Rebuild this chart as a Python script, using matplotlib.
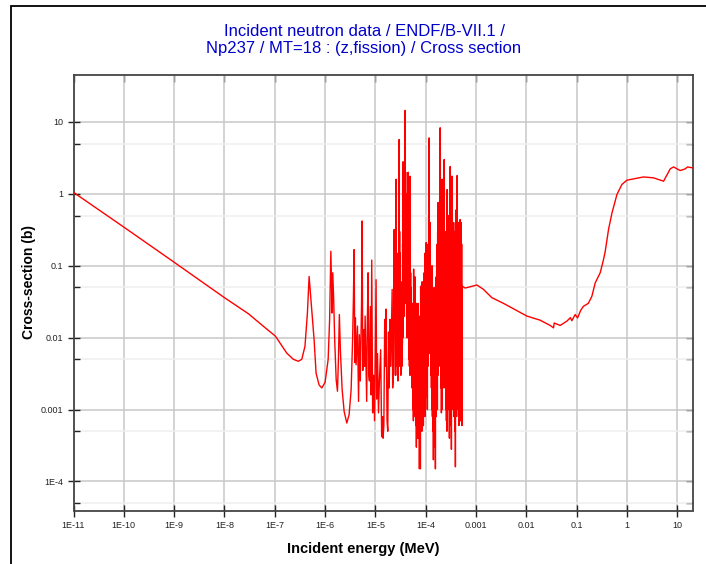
import matplotlib
matplotlib.use("Agg")
import matplotlib.pyplot as plt
import numpy as np
from matplotlib.ticker import LogLocator, FixedLocator, FixedFormatter, NullLocator, NullFormatter
from matplotlib.patches import Rectangle

# ---------------- data (energy in MeV, cross section in barns) ----------------
# thermal 1/v part and first isolated resonances
e_low = [1e-11, 1e-10, 1e-9, 1e-8, 3.0e-8, 5.94e-8, 1.03e-7, 1.73e-7, 2.34e-7, 2.94e-7,
         3.44e-7, 3.98e-7, 4.45e-7, 4.81e-7, 5.35e-7, 6.04e-7, 6.62e-7, 7.6e-7, 8.6e-7, 1.0e-6,
         1.15e-6, 1.23e-6, 1.30e-6, 1.35e-6, 1.37e-6, 1.42e-6, 1.48e-6, 1.55e-6, 1.66e-6, 1.76e-6,
         1.84e-6, 1.92e-6, 2.01e-6, 2.18e-6, 2.39e-6, 2.70e-6, 3.0e-6, 3.29e-6, 3.52e-6, 3.65e-6]
xs_low = [1.05, 0.345, 0.112, 0.036, 0.0215, 0.0144, 0.0105, 0.0061, 0.0050, 0.0047,
          0.0050, 0.0076, 0.022, 0.071, 0.0273, 0.0094, 0.0032, 0.0022, 0.0020, 0.0024,
          0.0050, 0.018, 0.159, 0.047, 0.022, 0.080, 0.034, 0.0094, 0.0026, 0.0018,
          0.0050, 0.021, 0.0068, 0.0019, 0.00094, 0.00065, 0.00085, 0.0019, 0.0094, 0.034]

# resolved resonances, sparse part
e_res_a = [3.77e-6, 3.90e-6, 4.00e-6, 4.13e-6, 4.40e-6, 4.62e-6, 4.80e-6, 5.00e-6, 5.30e-6, 5.44e-6,
           5.60e-6, 5.85e-6, 6.10e-6, 6.24e-6, 6.45e-6, 6.70e-6, 6.90e-6, 7.15e-6, 7.40e-6, 7.60e-6,
           7.95e-6, 8.20e-6, 8.45e-6, 8.80e-6, 9.20e-6, 9.60e-6, 1.00e-5, 1.03e-5, 1.06e-5, 1.10e-5,
           1.15e-5, 1.20e-5, 1.27e-5, 1.33e-5, 1.38e-5, 1.42e-5, 1.47e-5, 1.53e-5, 1.58e-5, 1.63e-5,
           1.70e-5, 1.76e-5, 1.82e-5, 1.88e-5, 1.95e-5, 2.02e-5, 2.08e-5, 2.15e-5, 2.20e-5, 2.27e-5,
           2.31e-5, 2.36e-5, 2.42e-5]
xs_res_a = [0.168, 0.0045, 0.019, 0.0042, 0.0145, 0.0013, 0.011, 0.0025, 0.030, 0.42,
            0.0035, 0.013, 0.004, 0.020, 0.006, 0.0013, 0.016, 0.080, 0.003, 0.0025,
            0.027, 0.0016, 0.12, 0.0009, 0.003, 0.0007, 0.010, 0.064, 0.0014, 0.006,
            0.0009, 0.0025, 0.0068, 0.00042, 0.0008, 0.0004, 0.0006, 0.018, 0.004, 0.025,
            0.0007, 0.0005, 0.012, 0.002, 0.018, 0.004, 0.012, 0.047, 0.002, 0.003,
            0.030, 0.32, 0.012]

# resolved resonances, dense part: four readings per row (peak, valley, peak, valley)
e_res_b = [
    2.464e-5, 2.492e-5, 2.522e-5, 2.551e-5,
    2.580e-5, 2.610e-5, 2.640e-5, 2.671e-5,
    2.700e-5, 2.731e-5, 2.763e-5, 2.795e-5,
    2.827e-5, 2.860e-5, 2.893e-5, 2.927e-5,
    2.959e-5, 2.993e-5, 3.028e-5, 3.063e-5,
    3.097e-5, 3.133e-5, 3.169e-5, 3.206e-5,
    3.242e-5, 3.279e-5, 3.318e-5, 3.356e-5,
    3.394e-5, 3.433e-5, 3.473e-5, 3.514e-5,
    3.553e-5, 3.594e-5, 3.636e-5, 3.678e-5,
    3.720e-5, 3.763e-5, 3.807e-5, 3.851e-5,
    3.894e-5, 3.939e-5, 3.985e-5, 4.031e-5,
    4.076e-5, 4.123e-5, 4.171e-5, 4.220e-5,
    4.267e-5, 4.316e-5, 4.367e-5, 4.418e-5,
    4.467e-5, 4.518e-5, 4.572e-5, 4.625e-5,
    4.676e-5, 4.730e-5, 4.785e-5, 4.841e-5,
    4.896e-5, 4.952e-5, 5.011e-5, 5.069e-5,
    5.124e-5, 5.183e-5, 5.244e-5, 5.305e-5,
    5.364e-5, 5.426e-5, 5.490e-5, 5.553e-5,
    5.615e-5, 5.680e-5, 5.746e-5, 5.813e-5,
    5.880e-5, 5.948e-5, 6.018e-5, 6.088e-5,
    6.155e-5, 6.226e-5, 6.299e-5, 6.372e-5,
    6.443e-5, 6.517e-5, 6.594e-5, 6.670e-5,
    6.745e-5, 6.823e-5, 6.903e-5, 6.983e-5,
    7.061e-5, 7.142e-5, 7.226e-5, 7.310e-5,
    7.391e-5, 7.476e-5, 7.564e-5, 7.652e-5,
    7.738e-5, 7.827e-5, 7.919e-5, 8.011e-5,
    8.100e-5, 8.193e-5, 8.290e-5, 8.386e-5,
    8.479e-5, 8.577e-5, 8.677e-5, 8.778e-5,
    8.876e-5, 8.978e-5, 9.084e-5, 9.189e-5,
    9.294e-5, 9.401e-5, 9.512e-5, 9.622e-5,
    9.727e-5, 9.839e-5, 9.955e-5, 1.007e-4,
    1.019e-4, 1.031e-4, 1.043e-4, 1.055e-4,
    1.066e-4, 1.078e-4, 1.091e-4, 1.104e-4,
    1.116e-4, 1.129e-4, 1.142e-4, 1.155e-4,
    1.168e-4, 1.181e-4, 1.195e-4, 1.209e-4,
    1.223e-4, 1.237e-4, 1.252e-4, 1.266e-4,
    1.280e-4, 1.295e-4, 1.310e-4, 1.325e-4,
    1.340e-4, 1.355e-4, 1.371e-4, 1.387e-4,
    1.403e-4, 1.419e-4, 1.436e-4, 1.453e-4,
    1.469e-4, 1.486e-4, 1.503e-4, 1.521e-4,
    1.538e-4, 1.556e-4, 1.574e-4, 1.592e-4,
    1.610e-4, 1.629e-4, 1.648e-4, 1.667e-4,
    1.685e-4, 1.704e-4, 1.724e-4, 1.744e-4,
    1.764e-4, 1.784e-4, 1.805e-4, 1.826e-4,
    1.847e-4, 1.868e-4, 1.890e-4, 1.912e-4,
    1.933e-4, 1.955e-4, 1.978e-4, 2.001e-4,
    2.024e-4, 2.047e-4, 2.071e-4, 2.095e-4,
    2.118e-4, 2.142e-4, 2.168e-4, 2.193e-4,
    2.217e-4, 2.242e-4, 2.269e-4, 2.295e-4,
    2.321e-4, 2.348e-4, 2.375e-4, 2.403e-4,
    2.430e-4, 2.458e-4, 2.487e-4, 2.516e-4,
    2.544e-4, 2.573e-4, 2.604e-4, 2.634e-4,
    2.663e-4, 2.694e-4, 2.725e-4, 2.757e-4,
    2.788e-4, 2.820e-4, 2.853e-4, 2.886e-4,
    2.918e-4, 2.952e-4, 2.986e-4, 3.021e-4,
    3.055e-4, 3.090e-4, 3.126e-4, 3.163e-4,
    3.198e-4, 3.235e-4, 3.273e-4, 3.311e-4,
    3.348e-4, 3.387e-4, 3.426e-4, 3.466e-4,
    3.505e-4, 3.545e-4, 3.587e-4, 3.629e-4,
    3.669e-4, 3.711e-4, 3.755e-4, 3.799e-4,
    3.841e-4, 3.885e-4, 3.931e-4, 3.977e-4,
    4.021e-4, 4.067e-4, 4.115e-4, 4.163e-4,
    4.209e-4, 4.257e-4, 4.308e-4, 4.358e-4,
    4.405e-4, 4.456e-4, 4.508e-4, 4.560e-4,
    4.612e-4, 4.665e-4, 4.720e-4, 4.775e-4,
    4.829e-4, 4.885e-4, 4.942e-4, 5.000e-4,
    5.055e-4, 5.113e-4, 5.173e-4, 5.233e-4,
]
xs_res_b = [
    0.03, 0.003, 0.32, 0.006,
    1.6, 0.01, 0.08, 0.004,
    0.05, 0.003, 0.02, 0.0025,
    0.15, 0.005, 0.04, 0.004,
    5.7, 0.02, 0.3, 0.006,
    0.15, 0.004, 0.05, 0.003,
    0.03, 0.0036, 0.02, 0.004,
    0.06, 0.008, 0.2, 0.01,
    2.8, 0.05, 0.4, 0.02,
    0.3, 0.02, 0.8, 0.03,
    14.5, 0.4, 2.0, 0.05,
    1.0, 0.03, 0.3, 0.01,
    0.2, 0.01, 0.5, 0.015,
    2.0, 0.02, 0.15, 0.005,
    0.1, 0.004, 0.06, 0.003,
    1.76, 0.02, 0.08, 0.004,
    0.05, 0.003, 0.03, 0.002,
    0.03, 0.005, 0.02, 0.001,
    0.015, 0.0007, 0.09, 0.002,
    0.03, 0.0008, 0.02, 0.001,
    0.07, 0.001, 0.015, 0.0006,
    0.02, 0.0003, 0.03, 0.0008,
    0.015, 0.0007, 0.02, 0.0004,
    0.03, 0.0004, 0.01, 0.0006,
    0.02, 0.00015, 0.01, 0.0005,
    0.012, 0.00015, 0.052, 0.0006,
    0.02, 0.0008, 0.03, 0.0005,
    0.06, 0.0009, 0.02, 0.0006,
    0.015, 0.0006, 0.04, 0.001,
    0.08, 0.002, 0.03, 0.0008,
    0.15, 0.001, 0.04, 0.0015,
    0.21, 0.003, 0.06, 0.002,
    0.05, 0.001, 0.15, 0.004,
    0.2, 0.008, 0.5, 0.01,
    6.0, 0.02, 0.4, 0.006,
    0.4, 0.01, 0.1, 0.003,
    0.06, 0.002, 0.05, 0.001,
    0.1, 0.0008, 0.03, 0.0005,
    0.02, 0.0002, 0.04, 0.0004,
    0.05, 0.0006, 0.02, 0.0003,
    0.03, 0.00015, 0.05, 0.0008,
    0.07, 0.002, 0.1, 0.001,
    0.2, 0.001, 0.3, 0.003,
    0.76, 0.01, 0.15, 0.004,
    0.2, 0.03, 0.5, 0.01,
    8.3, 0.005, 0.6, 0.002,
    0.3, 0.0009, 0.1, 0.001,
    1.6, 0.02, 0.3, 0.004,
    0.3, 0.01, 0.8, 0.002,
    3.0, 0.03, 0.2, 0.003,
    0.1, 0.002, 0.3, 0.001,
    0.04, 0.0007, 0.1, 0.0005,
    1.15, 0.03, 0.3, 0.002,
    0.5, 0.005, 0.15, 0.001,
    0.03, 0.0004, 0.2, 0.0006,
    2.4, 0.05, 0.3, 0.002,
    0.2, 0.00028, 0.5, 0.001,
    1.76, 0.02, 0.2, 0.003,
    0.15, 0.003, 0.4, 0.0008,
    0.3, 0.0012, 0.1, 0.0005,
    0.05, 0.00016, 0.15, 0.0008,
    0.6, 0.004, 0.25, 0.001,
    1.8, 0.002, 0.3, 0.003,
    0.06, 0.0008, 0.4, 0.0006,
    0.2, 0.003, 0.15, 0.0007,
    0.44, 0.0007, 0.1, 0.002,
    0.4, 0.0008, 0.2, 0.0006,
]

# unresolved / fast region
e_fast = [5.30e-4, 6.07e-4, 1.04e-3, 1.40e-3, 2.06e-3, 3.51e-3, 1.02e-2, 1.88e-2, 2.97e-2, 3.46e-2,
          3.57e-2, 4.70e-2, 6.38e-2, 7.5e-2, 8.0e-2, 9.33e-2, 0.104, 0.12, 0.136, 0.17,
          0.200, 0.233, 0.293, 0.341, 0.369, 0.429, 0.501, 0.63, 0.79, 0.995,
          2.13, 3.37, 5.32, 7.23, 8.40, 11.4, 14.4, 15.9, 20.0]
xs_fast = [0.052, 0.049, 0.054, 0.047, 0.036, 0.030, 0.020, 0.0175, 0.0148, 0.0137,
           0.016, 0.0148, 0.017, 0.019, 0.0172, 0.021, 0.0188, 0.024, 0.0273, 0.030,
           0.0376, 0.0577, 0.08, 0.122, 0.159, 0.32, 0.54, 0.98, 1.35, 1.55,
           1.72, 1.67, 1.50, 2.23, 2.37, 2.11, 2.23, 2.37, 2.30]

x_ticks = [1e-11, 1e-10, 1e-9, 1e-8, 1e-7, 1e-6, 1e-5, 1e-4, 1e-3, 1e-2, 1e-1, 1, 10]
x_labels = ["1E-11", "1E-10", "1E-9", "1E-8", "1E-7", "1E-6", "1E-5", "1E-4",
            "0.001", "0.01", "0.1", "1", "10"]
y_ticks = [1e-4, 1e-3, 1e-2, 1e-1, 1, 10]
y_labels = ["1E-4", "0.001", "0.01", "0.1", "1", "10"]

title_line1 = "Incident neutron data / ENDF/B-VII.1 /"
title_line2 = "Np237 / MT=18 : (z,fission) / Cross section"
xlabel_text = "Incident energy (MeV)"
ylabel_text = "Cross-section (b)"

# ---------------- figure ----------------
plt.rcParams['font.family'] = ['Liberation Sans', 'DejaVu Sans']
W, H = 706, 564
fig = plt.figure(figsize=(W / 100, H / 100), dpi=100)

L, R, T, B = 73.5, 692.5, 75, 510.5
ax = fig.add_axes([L / W, 1 - B / H, (R - L) / W, (B - T) / H])

energy = e_low + e_res_a + e_res_b + e_fast
xs = xs_low + xs_res_a + xs_res_b + xs_fast
ax.plot(energy, xs, color='#ff0000', lw=1.0, zorder=3)

ax.set_xscale('log')
ax.set_yscale('log')
ax.set_xlim(1e-11, 20)
ax.set_ylim(3.95e-5, 45)

ax.xaxis.set_major_locator(FixedLocator(x_ticks))
ax.xaxis.set_major_formatter(FixedFormatter(x_labels))
ax.xaxis.set_minor_locator(NullLocator())
ax.yaxis.set_major_locator(FixedLocator(y_ticks))
ax.yaxis.set_major_formatter(FixedFormatter(y_labels))
ax.yaxis.set_minor_locator(LogLocator(base=10, subs=[5.0]))
ax.yaxis.set_minor_formatter(NullFormatter())

ax.grid(True, which='major', color='#c8c8c8', lw=1.1, zorder=0)
ax.grid(True, which='minor', axis='y', color='#efefef', lw=1.1, zorder=0)
ax.set_axisbelow(True)

ax.tick_params(axis='both', which='major', direction='inout', length=9, width=1.0,
               colors='#222222', labelsize=6.5, pad=3, top=False, right=False)
ax.tick_params(axis='y', which='minor', direction='in', length=4, width=1.0, colors='#222222')
for s in ax.spines.values():
    s.set_color('#444444')
    s.set_linewidth(1.3)

# inward ticks on top and right
axt = ax.secondary_xaxis('top')
axt.xaxis.set_major_locator(FixedLocator(x_ticks))
axt.xaxis.set_minor_locator(NullLocator())
axt.tick_params(direction='in', length=5, width=1.0, colors='#222222', labeltop=False)
axt.spines['top'].set_visible(False)
axr = ax.secondary_yaxis('right')
axr.yaxis.set_major_locator(FixedLocator(y_ticks))
axr.yaxis.set_minor_locator(LogLocator(base=10, subs=[5.0]))
axr.yaxis.set_minor_formatter(NullFormatter())
axr.tick_params(which='both', direction='in', length=5, width=1.0, colors='#222222', labelright=False)
axr.spines['right'].set_visible(False)

fig.text(363 / W, 1 - 549 / H, xlabel_text, fontsize=10.5, fontweight='bold',
         ha='center', va='center')
fig.text(28.5 / W, 1 - 282 / H, ylabel_text, rotation=90, fontsize=10, fontweight='bold',
         ha='center', va='center')
fig.text(364 / W, 1 - 31 / H, title_line1, ha='center', va='center', fontsize=12, color='#0000cc')
fig.text(364 / W, 1 - 48 / H, title_line2, ha='center', va='center', fontsize=12, color='#0000cc')

# outer frame
fig.patches.append(Rectangle((10.5 / W, -0.1), 1.2, 1 - 6 / H + 0.1, transform=fig.transFigure,
                             fill=False, edgecolor='black', lw=1.3))

fig.savefig('out.png', dpi=100)
